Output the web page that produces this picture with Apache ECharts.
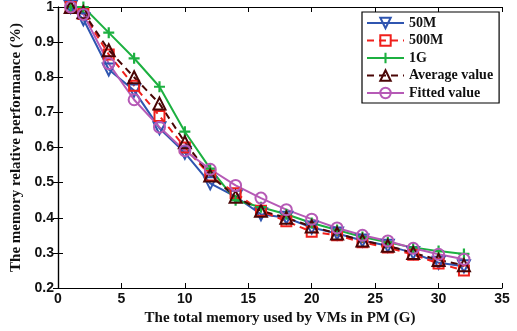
<!DOCTYPE html>
<html><head><meta charset="utf-8">
<script src="https://cdn.jsdelivr.net/npm/echarts@6/dist/echarts.min.js"></script>
<style>html,body{margin:0;padding:0;background:#fff}#c{width:517px;height:331px}</style>
</head><body><div id="c"></div>
<script>
var xValues = [1, 2, 4, 6, 8, 10, 12, 14, 16, 18, 20, 22, 24, 26, 28, 30, 32];
var s50M    = [1.0, 0.965, 0.822, 0.762, 0.655, 0.585, 0.498, 0.46, 0.41, 0.40, 0.372, 0.355, 0.335, 0.32, 0.30, 0.272, 0.262];
var s500M   = [1.0, 0.98, 0.865, 0.776, 0.69, 0.60, 0.52, 0.47, 0.42, 0.39, 0.36, 0.35, 0.33, 0.315, 0.295, 0.27, 0.25];
var s1G     = [1.0, 1.0, 0.927, 0.854, 0.773, 0.645, 0.54, 0.45, 0.43, 0.41, 0.385, 0.365, 0.345, 0.33, 0.315, 0.305, 0.297];
var sAvg    = [1.0, 0.985, 0.877, 0.80, 0.725, 0.615, 0.52, 0.46, 0.42, 0.40, 0.375, 0.355, 0.335, 0.32, 0.30, 0.28, 0.265];
var sFit    = [1.0, 0.979, 0.839, 0.736, 0.658, 0.591, 0.538, 0.492, 0.456, 0.423, 0.396, 0.371, 0.35, 0.334, 0.313, 0.296, 0.282];
var names   = ['50M', '500M', '1G', 'Average value', 'Fitted value'];
var xTicks  = [0, 35, 5];
var yTicks  = [0.2, 1, 0.1];

function pairs(arr){ return xValues.map(function(x,i){ return [x, arr[i]]; }); }
var colors = ['#2f55b0', '#f0201c', '#1cb040', '#4a0606', '#b65ab6'];
var plusPath = 'path://M4,0h2v4h4v2h-4v4h-2v-4h-4v-2h4z';

function mk(name, data, color, symbol, size, dashed, rot, filled){
  return {
    name: name, type: 'line', data: pairs(data),
    symbol: symbol, symbolSize: size, symbolRotate: rot || 0,
    lineStyle: {color: color, width: 2, type: dashed ? [7, 5] : 'solid'},
    itemStyle: filled ? {color: color, borderWidth: 0} : {color: 'rgba(0,0,0,0)', borderColor: color, borderWidth: 2},
    emphasis: {disabled: true}, animation: false, z: 3
  };
}
var axisFont = {fontFamily: 'Liberation Sans', fontWeight: 'bold', fontSize: 14, color: '#111'};
var nameFont = {fontFamily: 'Liberation Serif', fontWeight: 'bold', fontSize: 15, color: '#111'};
var chart = echarts.init(document.getElementById('c'));
chart.setOption({
  backgroundColor: '#fff',
  animation: false,
  grid: {left: 58, right: 15, top: 6, bottom: 43},
  legend: {
    show: true, orient: 'vertical', left: 362, top: 12, width: 135,
    backgroundColor: '#fff', borderColor: '#000', borderWidth: 1.2,
    padding: [4, 6, 3, 4], itemGap: 3.5, itemWidth: 37, itemHeight: 13,
    textStyle: {fontFamily: 'Liberation Serif', fontWeight: 'bold', fontSize: 14, color: '#111'},
    data: names
  },
  xAxis: [{
    type: 'value', min: xTicks[0], max: xTicks[1], interval: xTicks[2],
    name: 'The total memory used by VMs in PM (G)', nameLocation: 'middle', nameGap: 21,
    nameTextStyle: nameFont,
    axisLine: {lineStyle: {color: '#000', width: 1.2}},
    axisTick: {inside: true, length: 5, lineStyle: {color: '#000'}},
    axisLabel: Object.assign({margin: 4}, axisFont),
    splitLine: {show: false}
  }, {
    type: 'value', position: 'top', min: xTicks[0], max: xTicks[1], interval: xTicks[2],
    axisLine: {show: true, lineStyle: {color: '#000', width: 1.2}},
    axisTick: {inside: true, length: 5, lineStyle: {color: '#000'}},
    axisLabel: {show: false}, splitLine: {show: false}
  }],
  yAxis: [{
    type: 'value', min: yTicks[0], max: yTicks[1], interval: yTicks[2],
    name: 'The memory relative performance (%)', nameLocation: 'middle', nameGap: 32,
    nameTextStyle: nameFont,
    axisLine: {show: true, lineStyle: {color: '#000', width: 1.2}},
    axisTick: {show: true, inside: true, length: 5, lineStyle: {color: '#000'}},
    axisLabel: Object.assign({margin: 4, formatter: function(v){ return Math.abs(v-1)<1e-9 ? '1' : v.toFixed(1); }}, axisFont),
    splitLine: {show: false}
  }, {
    type: 'value', position: 'right', min: yTicks[0], max: yTicks[1], interval: yTicks[2],
    axisLine: {show: true, lineStyle: {color: '#000', width: 1.2}},
    axisTick: {show: true, inside: true, length: 5, lineStyle: {color: '#000'}},
    axisLabel: {show: false}, splitLine: {show: false}
  }],
  series: [
    mk(names[0], s50M, colors[0], 'triangle', 12, false, 180, false),
    mk(names[1], s500M, colors[1], 'rect', 10, true, 0, false),
    mk(names[2], s1G, colors[2], plusPath, 11, false, 0, true),
    mk(names[3], sAvg, colors[3], 'triangle', 12, true, 0, false),
    mk(names[4], sFit, colors[4], 'circle', 11, false, 0, false)
  ]
});
</script></body></html>
